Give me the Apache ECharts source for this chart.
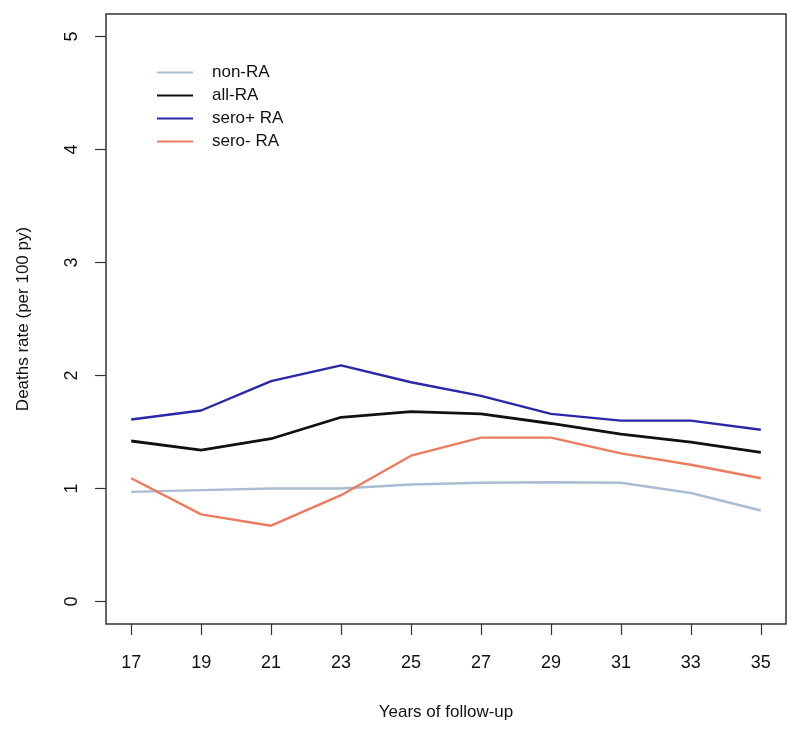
<!DOCTYPE html>
<html>
<head>
<meta charset="utf-8">
<script src="https://cdn.jsdelivr.net/npm/echarts@6/dist/echarts.min.js"></script>
<style>html,body{margin:0;padding:0;background:#fff}#c{width:800px;height:731px}</style>
</head>
<body>
<div id="c"></div>
<script>
var years = [17, 19, 21, 23, 25, 27, 29, 31, 33, 35];
var nonRA   = [0.97, 0.985, 1.00, 1.00, 1.035, 1.05, 1.055, 1.05, 0.96, 0.805];
var allRA   = [1.42, 1.34, 1.44, 1.63, 1.68, 1.66, 1.575, 1.48, 1.41, 1.32];
var seroPos = [1.61, 1.69, 1.95, 2.09, 1.94, 1.82, 1.66, 1.60, 1.60, 1.52];
var seroNeg = [1.09, 0.77, 0.67, 0.94, 1.29, 1.45, 1.45, 1.31, 1.21, 1.09];
var yTicks = [0, 1, 2, 3, 4, 5];
var xTicks = years;
var names = ['non-RA', 'all-RA', 'sero+ RA', 'sero- RA'];
var colors = ['#a9bcd2', '#111111', '#2828a8', '#ec7c5e'];
var values = [nonRA, allRA, seroPos, seroNeg];

function pairs(v) { return years.map(function (y, i) { return [y, v[i]]; }); }

var font = 'Liberation Sans, Arial, sans-serif';
var chart = echarts.init(document.getElementById('c'), null, {renderer: 'canvas'});
chart.setOption({
  animation: false,
  backgroundColor: '#fff',
  textStyle: {fontFamily: font},
  grid: {left: 106, right: 14, top: 14, bottom: 107, show: true, borderColor: '#333', borderWidth: 1.5, containLabel: false},
  legend: {
    orient: 'vertical', left: 157, top: 64, itemGap: 6, padding: 0,
    icon: 'rect', itemWidth: 36, itemHeight: 2,
    data: names,
    textStyle: {fontFamily: font, fontSize: 17, color: '#111', padding: [0, 0, 0, 14]}
  },
  xAxis: {
    type: 'value', min: 16.28, max: 35.72,
    name: 'Years of follow-up', nameLocation: 'middle', nameGap: 80,
    nameTextStyle: {fontFamily: font, fontSize: 17, color: '#111'},
    axisLine: {show: false, onZero: false},
    splitLine: {show: false},
    axisTick: {show: true, length: 11, inside: false, customValues: xTicks, lineStyle: {color: '#333', width: 1.2}},
    axisLabel: {customValues: xTicks, margin: 30, fontFamily: font, fontSize: 18, color: '#111'}
  },
  yAxis: {
    type: 'value', min: -0.2, max: 5.2,
    name: 'Deaths rate (per 100 py)', nameLocation: 'middle', nameGap: 74, nameRotate: 90,
    nameTextStyle: {fontFamily: font, fontSize: 17, color: '#111'},
    axisLine: {show: false, onZero: false},
    splitLine: {show: false},
    axisTick: {show: true, length: 11, customValues: yTicks, lineStyle: {color: '#333', width: 1.2}},
    axisLabel: {customValues: yTicks, rotate: 90, margin: 25, fontFamily: font, fontSize: 18, color: '#111'}
  },
  series: names.map(function (n, i) {
    return {
      name: n, type: 'line', data: pairs(values[i]),
      showSymbol: false, symbol: 'none',
      color: colors[i],
      lineStyle: {color: colors[i], width: i === 1 ? 2.8 : 2.4},
      itemStyle: {color: colors[i]},
      z: [1, 3, 2, 2][i]
    };
  })
});
</script>
</body>
</html>
